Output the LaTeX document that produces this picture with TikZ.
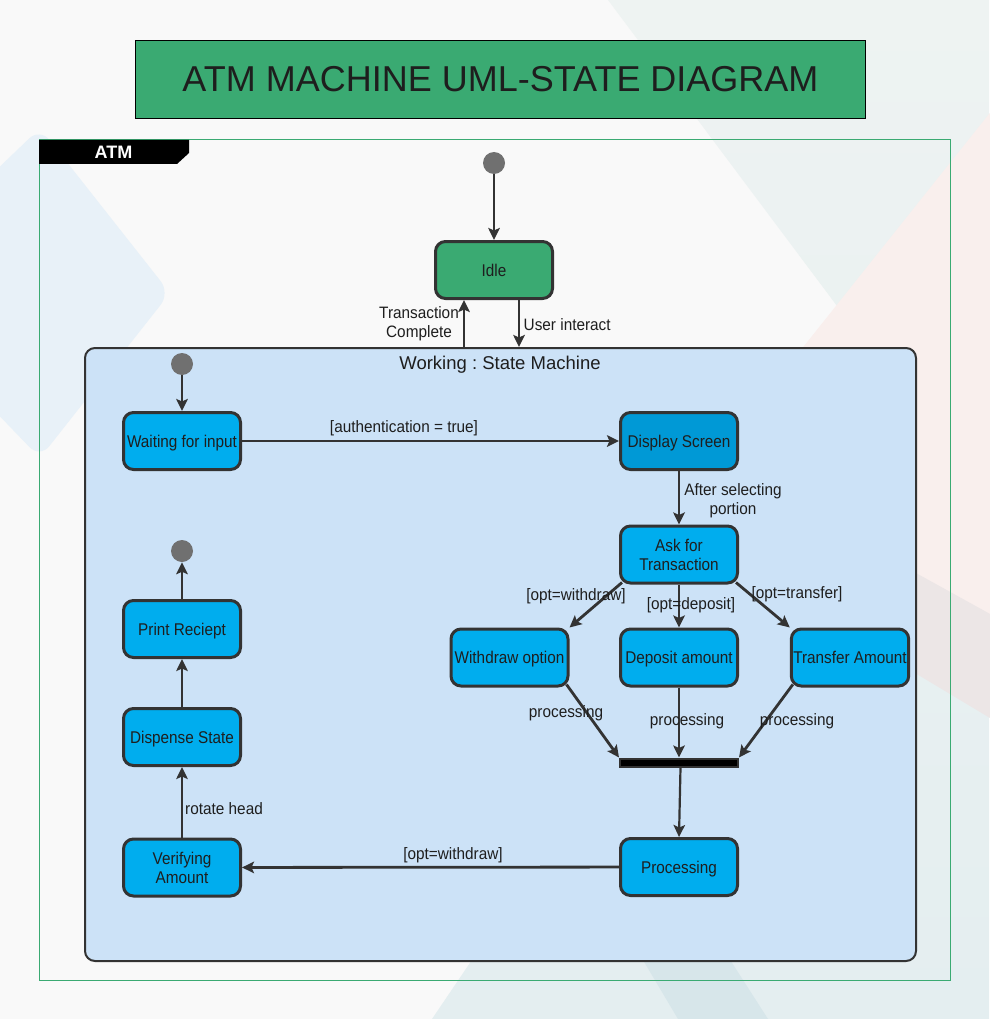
\documentclass[tikz,border=0pt]{standalone}
\usepackage{fontspec}
\setmainfont{Liberation Sans}
\newfontfamily\statefont{Liberation Sans}[FakeStretch=0.9]
\newfontfamily\labfont{Liberation Sans}[FakeStretch=0.93]
\usetikzlibrary{arrows.meta,calc}
\definecolor{bgbase}{HTML}{F9F9F9}
\definecolor{bggray}{HTML}{EEF3F2}
\definecolor{bgteal}{HTML}{E4EEF0}
\definecolor{bgband}{HTML}{D7E6EA}
\definecolor{bgpink}{HTML}{F9EFED}
\definecolor{bgmauve}{HTML}{ECE6E6}
\definecolor{bgblue}{HTML}{E8F1F8}
\definecolor{atmgreen}{HTML}{3AAA72}
\definecolor{cyanstate}{HTML}{00ADEE}
\definecolor{cyandark}{HTML}{0099D6}
\definecolor{workfill}{HTML}{CCE2F7}
\definecolor{edgecol}{HTML}{333333}
\definecolor{dotgray}{HTML}{707070}
\definecolor{txt}{HTML}{1E1E1E}
\begin{document}
\frenchspacing
\begin{tikzpicture}[x=1pt,y=-1pt,
  state/.style={draw=edgecol, line width=3pt, rounded corners=10pt, fill=cyanstate,
    minimum width=117pt, minimum height=57pt, inner sep=2pt, align=center,
    font=\statefont\fontsize{17}{19}\selectfont, text=txt, text height=12.2pt, text depth=0pt},
  twostate/.style={text height=31.2pt},
  dot/.style={circle, fill=dotgray, minimum size=22pt, inner sep=0pt},
  arr/.style={draw=edgecol, line width=2.8pt, -{Stealth[length=12pt,width=11.5pt,inset=2.5pt]}},
  lab/.style={font=\labfont\fontsize{16.5}{19}\selectfont, text=txt, inner sep=0pt, align=center,
    text height=11.8pt, text depth=0pt},
  twolab/.style={text height=30.8pt},
]
\useasboundingbox (0,0) rectangle (989,1019);
% ---------- background decoration ----------
\fill[bgbase] (0,0) rectangle (989,1019);
\shade[top color=bggray, bottom color=bgteal] (608,0) -- (989,0) -- (989,1019) -- (432,1019) -- (480,948) -- (855,330) -- cycle;
\fill[bgpink, rounded corners=40pt] (1080,0) -- (745,420) -- (1080,760) -- cycle;
\fill[bgmauve, rounded corners=20pt] (820,520) -- (1010,625) -- (1010,730) -- (860,640) -- cycle;
\fill[bgband] (640,955) -- (727,955) -- (768,1019) -- (678,1019) -- cycle;
\fill[bgblue, rounded corners=15pt] (-40,205) -- (40,128) -- (170,293) -- (40,458) -- (-40,375) -- cycle;

% ---------- title ----------
\node (title) [draw=black, line width=1.2pt, fill=atmgreen, minimum width=730pt, minimum height=78pt,
  font=\fontsize{36}{40}\selectfont, text=txt] at (500.5,79.5) {ATM MACHINE UML-STATE DIAGRAM};

% ---------- ATM frame ----------
\node (frame) [draw=atmgreen, line width=1pt, minimum width=911pt, minimum height=840pt, inner sep=0pt] at (494.5,560) {};
\fill[black] (39,140) -- (189,140) -- (189,153) -- (177,164) -- (39,164) -- cycle;
\node (atmtab) [text=white, font=\bfseries\fontsize{18}{20}\selectfont, inner sep=0pt, text height=12.9pt, text depth=0pt] at (113.5,152) {ATM};

% ---------- top level ----------
\node (init1) [dot] at (494,163) {};
\node (idle) [state, fill=atmgreen] at (494,270) {Idle};

\node (work) [draw=edgecol, line width=2pt, fill=workfill, rounded corners=10pt,
  minimum width=831pt, minimum height=613pt, inner sep=0pt] at (500.5,654.5) {};
\node (worktitle) [font=\fontsize{18.5}{21}\selectfont, text=txt, inner sep=0pt, text height=13.2pt, text depth=0pt] at (500,362.5) {Working : State Machine};

\draw[arr] (init1) -- (idle);
\draw[arr] ([xshift=-30pt]idle.south |- work.north) -- ([xshift=-30pt]idle.south);
\draw[arr] ([xshift=25pt]idle.south) -- ([xshift=25pt]idle.south |- work.north);
\node (lbtc) [lab, twolab] at (419,322) {Transaction\\Complete};
\node (lbui) [lab, anchor=west] at (523.5,324.5) {User interact};

% ---------- inner states ----------
\node (init2) [dot] at (182,364) {};
\node (wait) [state] at (182,441) {Waiting for input};
\node (disp) [state, fill=cyandark] at (679,441) {Display Screen};
\node (ask) [state, twostate] at (679,554.5) {Ask for\\Transaction};
\node (wdr) [state] at (509.5,657.5) {Withdraw option};
\node (dep) [state] at (679,657.5) {Deposit amount};
\node (trf) [state] at (850,657.5) {Transfer Amount};
\node (bar) [draw=edgecol, fill=black, line width=2pt, minimum width=118pt, minimum height=8pt, inner sep=0pt] at (679,762.5) {};
\node (proc) [state] at (679,867) {Processing};
\node (verif) [state, twostate] at (182,867.5) {Verifying\\Amount};
\node (disn) [state] at (182,737) {Dispense State};
\node (prnt) [state] at (182,629) {Print Reciept};
\node (fin) [dot] at (182,551) {};

% ---------- inner transitions ----------
\draw[arr] (init2) -- (wait);
\draw[arr] (wait) -- (disp);
\node (lbauth) [lab] at (404,426.5) {[authentication = true]};
\draw[arr] (disp) -- (ask);
\node (lbsel) [lab, twolab] at (733,499) {After selecting\\portion};

\draw[arr] ([shift={(3pt,2pt)}]ask.south west) -- (wdr.north east);
\draw[arr] (ask) -- (dep);
\draw[arr] ([shift={(-3pt,2pt)}]ask.south east) -- (trf.north west);
\node (lbow) [lab] at (576,594.5) {[opt=withdraw]};
\node (lbod) [lab] at (691,603.5) {[opt=deposit]};
\node (lbot) [lab] at (797,592.5) {[opt=transfer]};

\draw[arr] ([shift={(-3pt,3pt)}]wdr.south east) -- (bar.north west);
\draw[arr] (dep) -- (bar);
\draw[arr] ([shift={(3pt,3pt)}]trf.south west) -- (bar.north east);
\node (lbp1) [lab] at (566,712) {processing};
\node (lbp2) [lab] at (687,720) {processing};
\node (lbp3) [lab] at (797,720) {processing};

\draw[arr, line width=2.2pt] ([xshift=1.5pt]bar.south) -- (proc.north);
\draw[arr] (proc) -- (verif);
\node (lbow2) [lab] at (453,853.5) {[opt=withdraw]};
\draw[arr] (verif) -- (disn);
\node (lbrot) [lab, anchor=west] at (185,808.5) {rotate head};
\draw[arr] (disn) -- (prnt);
\draw[arr] (prnt) -- (fin);
\end{tikzpicture}
\end{document}
